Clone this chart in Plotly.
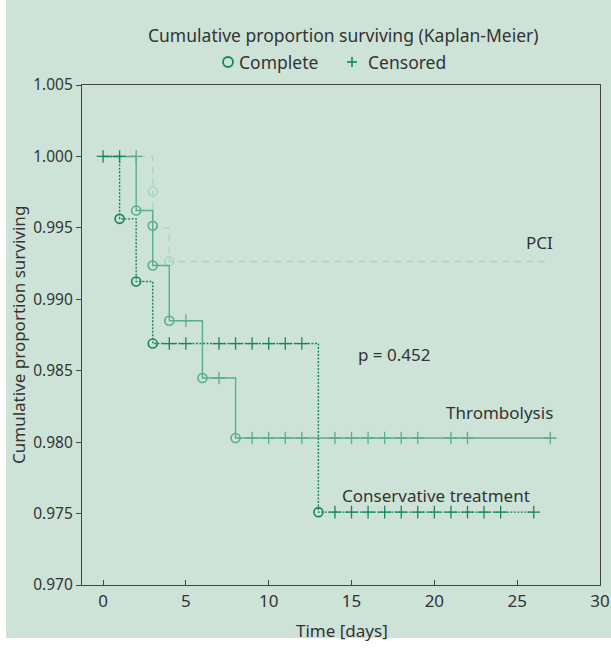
import plotly.graph_objects as go

# ---- data ----
cons_t = [0, 1, 2, 3, 13, 26]
cons_s = [1.0, 0.99563, 0.99124, 0.98690, 0.97510, 0.97510]
cons_ev_t = [1, 2, 3, 13]
cons_ev_s = [0.99563, 0.99124, 0.98690, 0.97510]
cons_cen_t = [0, 1, 4, 5, 7, 8, 9, 10, 11, 12, 14, 15, 16, 17, 18, 19, 20, 21, 22, 23, 24, 26]
cons_cen_s = [1.0, 1.0] + [0.98690] * 8 + [0.97510] * 12

thr_t = [0, 2, 3, 4, 6, 8, 27]
thr_s = [1.0, 0.99621, 0.99236, 0.98850, 0.98449, 0.98029, 0.98029]
thr_ev_t = [2, 3, 3, 4, 6, 8]
thr_ev_s = [0.99621, 0.99514, 0.99236, 0.98850, 0.98449, 0.98029]
thr_cen_t = [2, 5, 7, 9, 10, 11, 12, 14, 15, 16, 17, 18, 19, 21, 22, 27]
thr_cen_s = [1.0, 0.98850, 0.98449] + [0.98029] * 13

pci_t = [0, 3, 4, 27]
pci_s = [1.0, 0.99500, 0.99265, 0.99265]
pci_ev_t = [3, 4]
pci_ev_s = [0.99754, 0.99265]

x_ticks = [0, 5, 10, 15, 20, 25, 30]
y_ticks = [0.970, 0.975, 0.980, 0.985, 0.990, 0.995, 1.000, 1.005]

DARK = "#17865a"
MED = "#5aae8b"
LIGHT = "#a7d6c3"
TXT = "#333333"
FONT = "Noto Sans"

fig = go.Figure()

def add_group(t, s, ev_t, ev_s, cen_t, cen_s, color, dash):
    fig.add_trace(go.Scatter(x=t, y=s, mode="lines", line=dict(color=color, width=1.4, dash=dash, shape="hv"),
                             showlegend=False, hoverinfo="skip"))
    if cen_t:
        fig.add_trace(go.Scatter(x=cen_t, y=cen_s, mode="markers",
                                 marker=dict(symbol="cross-thin", size=9, line=dict(color=color, width=1.3)),
                                 showlegend=False))
    fig.add_trace(go.Scatter(x=ev_t, y=ev_s, mode="markers",
                             marker=dict(symbol="circle-open", size=9, color=color, line=dict(width=1.6)),
                             showlegend=False))

add_group(pci_t, pci_s, pci_ev_t, pci_ev_s, [], [], LIGHT, "7px,5px")
add_group(thr_t, thr_s, thr_ev_t, thr_ev_s, thr_cen_t, thr_cen_s, MED, "solid")
add_group(cons_t, cons_s, cons_ev_t, cons_ev_s, cons_cen_t, cons_cen_s, DARK, "2px,1.5px")

W, H = 611, 648
L, R, T, B = 82, 11, 85, 63
pw, ph = W - L - R, H - T - B

def px(xp):
    return (xp - L) / pw

def py(yp):
    return 1 - (yp - T) / ph

# green panel
fig.add_shape(type="rect", xref="paper", yref="paper", x0=px(6), x1=px(612), y0=py(638), y1=py(-2),
              fillcolor="#cde3d8", line=dict(width=0), layer="below")
# legend symbols
fig.add_shape(type="circle", xref="paper", yref="paper", x0=px(223), x1=px(233), y0=py(67), y1=py(57),
              line=dict(color=DARK, width=1.8), fillcolor="rgba(0,0,0,0)", layer="above")
fig.add_shape(type="line", xref="paper", yref="paper", x0=px(347), x1=px(357), y0=py(62), y1=py(62),
              line=dict(color=DARK, width=1.6), layer="above")
fig.add_shape(type="line", xref="paper", yref="paper", x0=px(352), x1=px(352), y0=py(67), y1=py(57),
              line=dict(color=DARK, width=1.6), layer="above")

anns = [
    dict(x=27.3, y=0.9940, text="PCI", xanchor="right"),
    dict(x=27.3, y=0.98206, text="Thrombolysis", xanchor="right"),
    dict(x=25.9, y=0.97626, text="Conservative treatment", xanchor="right"),
    dict(x=15.3, y=0.98612, text="p = 0.452", xanchor="left"),
]
for a in anns:
    fig.add_annotation(x=a["x"], y=a["y"], text=a["text"], xanchor=a["xanchor"], yanchor="middle",
                       showarrow=False, font=dict(family=FONT, size=17, color=TXT))

def pann(x, y, text, size=17, angle=0, anchor="center"):
    fig.add_annotation(xref="paper", yref="paper", x=px(x), y=py(y), text=text, textangle=angle,
                       showarrow=False, xanchor=anchor, yanchor="middle",
                       font=dict(family=FONT, size=size, color=TXT))

pann(343, 35, "Cumulative proportion surviving (Kaplan-Meier)", 17.5)
pann(237, 62, "Complete", 17.5, anchor="left")
pann(366, 62, "Censored", 17.5, anchor="left")
pann(342, 630, "Time [days]", 17)
pann(18, 335, "Cumulative proportion surviving", 17, -90)

fig.update_layout(
    width=W, height=H,
    margin=dict(l=L, r=R, t=T, b=B),
    paper_bgcolor="white", plot_bgcolor="white",
    font=dict(family=FONT, color=TXT, size=15),
    showlegend=False,
    xaxis=dict(range=[-1.27, 30], tickvals=x_ticks, ticks="inside", ticklen=5, automargin=False,
               showline=True, linecolor="#444", linewidth=1.2, mirror=True, showgrid=False, zeroline=False,
               tickcolor="#444", tickfont=dict(size=17)),
    yaxis=dict(range=[0.970, 1.005], tickvals=y_ticks, automargin=False,
               tickformat=".3f", ticks="outside", ticklen=5, showline=True, linecolor="#444", linewidth=1.2,
               mirror=True, showgrid=False, zeroline=False, tickcolor="#444", tickfont=dict(size=15.5)),
)

fig.write_html("out.html", config={"displayModeBar": False},
               post_script="document.body.style.margin='0';document.body.style.padding='0';")
